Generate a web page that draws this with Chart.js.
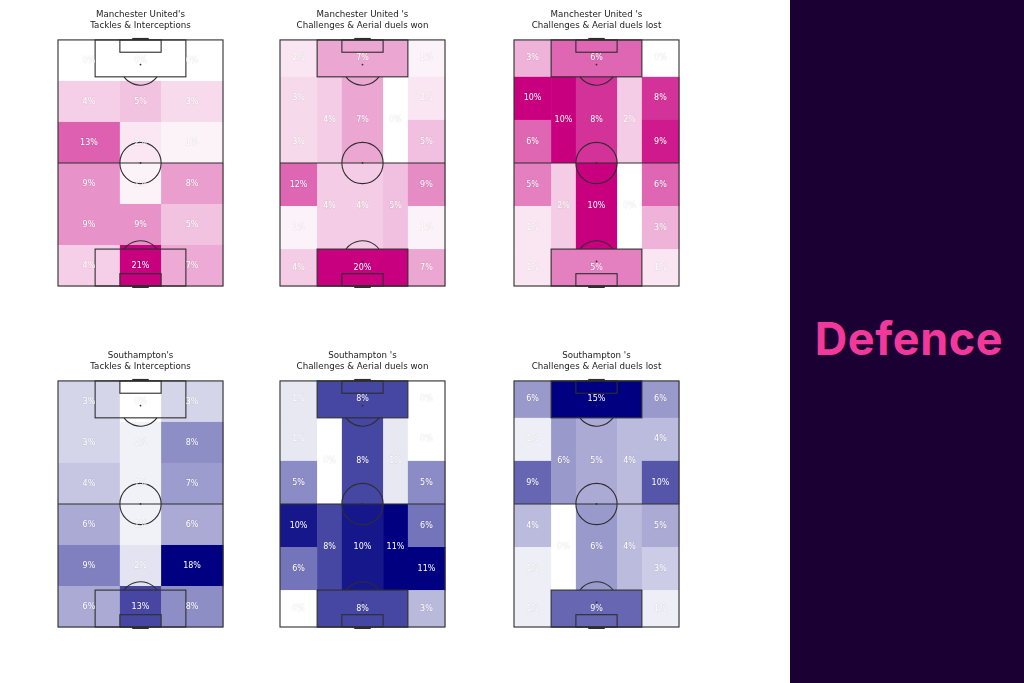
<!DOCTYPE html>
<html>
<head>
<meta charset="utf-8">
<script src="https://cdn.jsdelivr.net/npm/chart.js@4/dist/chart.umd.min.js"></script>
<style>
  html, body { margin: 0; padding: 0; background: #ffffff; }
  body { width: 1024px; height: 683px; position: relative; overflow: hidden; font-family: 'DejaVu Sans', sans-serif; }
  .pitch { position: absolute; }
  #side {
    position: absolute; left: 790px; top: 0; width: 234px; height: 683px;
    background: #1a0033;
  }
  #side span {
    position: absolute; left: 2px; width: 234px; top: 311px; text-align: center;
    font-family: Inter, 'DejaVu Sans', sans-serif; font-weight: 700; font-size: 45px;
    color: #f2389a; letter-spacing: 0.6px;
  }
</style>
</head>
<body>
<div class="pitch" style="left:55px;top:4px;width:171px;height:285px"><canvas id="p1"></canvas></div>
<div class="pitch" style="left:277px;top:4px;width:171px;height:285px"><canvas id="p2"></canvas></div>
<div class="pitch" style="left:511px;top:4px;width:171px;height:285px"><canvas id="p3"></canvas></div>
<div class="pitch" style="left:55px;top:345px;width:171px;height:285px"><canvas id="p4"></canvas></div>
<div class="pitch" style="left:277px;top:345px;width:171px;height:285px"><canvas id="p5"></canvas></div>
<div class="pitch" style="left:511px;top:345px;width:171px;height:285px"><canvas id="p6"></canvas></div>
<div id="side"><span>Defence</span></div>

<script>
// pitch is statsbomb-sized: 80 wide, 120 long, opponent goal at the top
const PITCH_W = 80;
const PITCH_L = 120;

// tackles grid: 3 lanes (six-yard box width in the middle) x 6 equal rows
const gridLanes = [0, 30, 50, 80];
const gridRows = [0, 20, 40, 60, 80, 100, 120];

// positional zones [x0, x1, y0, y1], top to bottom
const positionalZones = [
    [0, 18, 0, 18], [18, 62, 0, 18], [62, 80, 0, 18],
    [0, 18, 18, 39], [0, 18, 39, 60], [18, 30, 18, 60], [30, 50, 18, 60], [50, 62, 18, 60], [62, 80, 18, 39], [62, 80, 39, 60],
    [0, 18, 60, 81], [0, 18, 81, 102], [18, 30, 60, 102], [30, 50, 60, 102], [50, 62, 60, 102], [62, 80, 60, 81], [62, 80, 81, 102],
    [0, 18, 102, 120], [18, 62, 102, 120], [62, 80, 102, 120]
];

// percentages, rows top to bottom, lanes left to right
const muTackles = [0, 0, 0, 4, 5, 3, 13, 2, 1, 9, 1, 8, 9, 9, 5, 4, 21, 7];
const sotTackles = [3, 0, 3, 3, 1, 8, 4, 1, 7, 6, 1, 6, 9, 2, 18, 6, 13, 8];

// percentages in positionalZones order
const muWon = [2, 7, 1, 3, 3, 4, 7, 0, 2, 5, 12, 1, 4, 4, 5, 9, 1, 4, 20, 7];
const muLost = [3, 6, 0, 10, 6, 10, 8, 2, 8, 9, 5, 1, 2, 10, 0, 6, 3, 1, 5, 1];
const sotWon = [1, 8, 0, 1, 5, 0, 8, 1, 0, 5, 10, 6, 8, 10, 11, 6, 11, 0, 8, 3];
const sotLost = [6, 15, 6, 1, 9, 6, 5, 4, 4, 10, 4, 1, 0, 6, 4, 5, 3, 1, 9, 1];

const titles = [
    ["Manchester United's", 'Tackles & Interceptions'],
    ["Manchester United 's", 'Challenges & Aerial duels won'],
    ["Manchester United 's", 'Challenges & Aerial duels lost'],
    ["Southampton's", 'Tackles & Interceptions'],
    ["Southampton 's", 'Challenges & Aerial duels won'],
    ["Southampton 's", 'Challenges & Aerial duels lost']
];

const MU_COLOR = [200, 0, 127];
const SOT_COLOR = [0, 0, 128];

function gridZones() {
    const zones = [];
    for (let r = 0; r < gridRows.length - 1; r++) {
        for (let l = 0; l < gridLanes.length - 1; l++) {
            zones.push([gridLanes[l], gridLanes[l + 1], gridRows[r], gridRows[r + 1]]);
        }
    }
    return zones;
}

function shade(rgb, t) {
    const c = rgb.map(v => Math.round(255 + (v - 255) * t));
    return `rgb(${c[0]},${c[1]},${c[2]})`;
}

const heatPlugin = {
    id: 'heatZones',
    beforeDatasetsDraw(chart) {
        const { ctx, scales: { x, y } } = chart;
        const ds = chart.data.datasets[0];
        const max = Math.max(...ds.data.map(d => d.v));
        ctx.save();
        ds.data.forEach(d => {
            const [x0, x1, y0, y1] = d.zone;
            const px0 = x.getPixelForValue(x0), px1 = x.getPixelForValue(x1);
            const py0 = y.getPixelForValue(y0), py1 = y.getPixelForValue(y1);
            ctx.fillStyle = shade(ds.baseRgb, d.v / max);
            ctx.fillRect(px0, py0, px1 - px0 + 0.5, py1 - py0 + 0.5);
        });
        ctx.restore();
    },
    afterDatasetsDraw(chart) {
        const { ctx, scales: { x, y } } = chart;
        const X = v => x.getPixelForValue(v);
        const Y = v => y.getPixelForValue(v);
        const r = X(10) - X(0);
        ctx.save();
        ctx.strokeStyle = '#2e2e2e';
        ctx.lineWidth = 1.1;

        ctx.strokeRect(X(0), Y(0), X(PITCH_W) - X(0), Y(PITCH_L) - Y(0));
        ctx.beginPath();
        ctx.moveTo(X(0), Y(60));
        ctx.lineTo(X(PITCH_W), Y(60));
        ctx.stroke();
        ctx.beginPath();
        ctx.arc(X(40), Y(60), r, 0, Math.PI * 2);
        ctx.stroke();

        // boxes, top then bottom
        [[0, 18, 6, 12, 1], [120, 102, 114, 108, -1]].forEach(([goal, box, six, spot, dir]) => {
            ctx.strokeRect(X(18), Math.min(Y(goal), Y(box)), X(62) - X(18), Math.abs(Y(box) - Y(goal)));
            ctx.strokeRect(X(30), Math.min(Y(goal), Y(six)), X(50) - X(30), Math.abs(Y(six) - Y(goal)));
            const a = Math.acos(0.6);
            const mid = dir > 0 ? Math.PI / 2 : -Math.PI / 2;
            ctx.beginPath();
            ctx.arc(X(40), Y(spot), r, mid - a, mid + a);
            ctx.stroke();
            ctx.fillStyle = '#2e2e2e';
            ctx.beginPath();
            ctx.arc(X(40), Y(spot), 0.9, 0, Math.PI * 2);
            ctx.fill();
            // goal mouth
            ctx.fillRect(X(36), Y(goal) - (dir > 0 ? 2 : 0), X(44) - X(36), 2);
        });
        ctx.beginPath();
        ctx.arc(X(40), Y(60), 0.9, 0, Math.PI * 2);
        ctx.fill();

        // percentage labels
        const ds = chart.data.datasets[0];
        ctx.font = "8px 'DejaVu Sans'";
        ctx.textAlign = 'center';
        ctx.textBaseline = 'middle';
        ds.data.forEach(d => {
            const tx = X(d.x), ty = Y(d.y);
            const label = d.v + '%';
            ctx.lineWidth = 1;
            ctx.strokeStyle = 'rgba(0,0,0,0.07)';
            ctx.strokeText(label, tx, ty);
            ctx.fillStyle = '#ffffff';
            ctx.fillText(label, tx, ty);
        });
        ctx.restore();
    }
};

function drawPitch(id, title, zones, values, rgb) {
    const points = zones.map((z, i) => ({
        x: (z[0] + z[1]) / 2,
        y: (z[2] + z[3]) / 2,
        v: values[i],
        zone: z
    }));
    new Chart(document.getElementById(id), {
        type: 'scatter',
        data: { datasets: [{ data: points, pointRadius: 0, baseRgb: rgb }] },
        options: {
            responsive: true,
            maintainAspectRatio: false,
            animation: false,
            events: [],
            layout: { padding: { left: 3, right: 3, top: 0, bottom: 3 } },
            plugins: {
                legend: { display: false },
                tooltip: { enabled: false },
                title: {
                    display: true,
                    text: title,
                    color: '#222222',
                    font: { family: 'DejaVu Sans', size: 8.7, weight: 'normal', lineHeight: 1.26 },
                    padding: { top: 5.5, bottom: 8.5 }
                }
            },
            scales: {
                x: { type: 'linear', min: 0, max: PITCH_W, display: false },
                y: { type: 'linear', min: 0, max: PITCH_L, reverse: true, display: false }
            }
        },
        plugins: [heatPlugin]
    });
}

drawPitch('p1', titles[0], gridZones(), muTackles, MU_COLOR);
drawPitch('p2', titles[1], positionalZones, muWon, MU_COLOR);
drawPitch('p3', titles[2], positionalZones, muLost, MU_COLOR);
drawPitch('p4', titles[3], gridZones(), sotTackles, SOT_COLOR);
drawPitch('p5', titles[4], positionalZones, sotWon, SOT_COLOR);
drawPitch('p6', titles[5], positionalZones, sotLost, SOT_COLOR);
</script>
</body>
</html>
